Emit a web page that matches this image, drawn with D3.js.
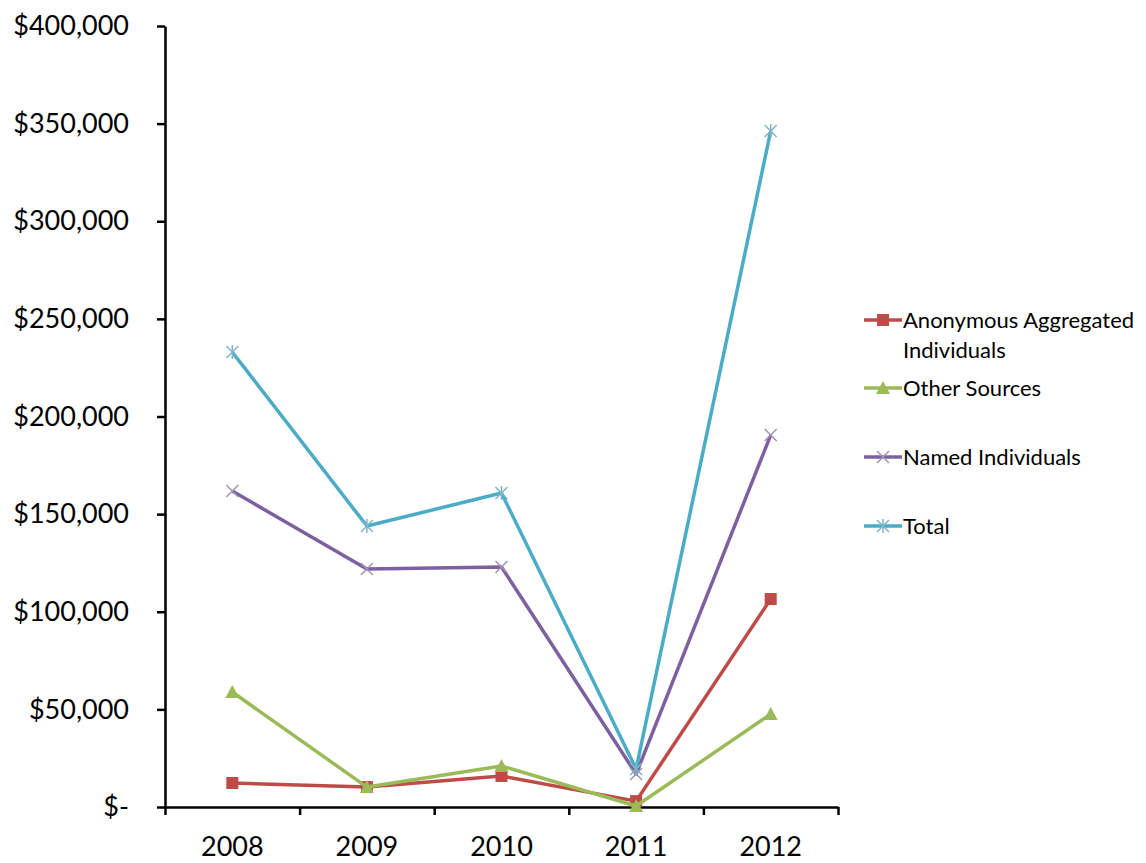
<!DOCTYPE html>
<html>
<head>
<meta charset="utf-8">
<script src="https://cdn.jsdelivr.net/npm/d3@7"></script>
<style>
  body { margin: 0; background: #fff; }
  svg text { font-family: Lato, "Open Sans", sans-serif; fill: #000; }
</style>
</head>
<body>
<svg width="1146" height="863"></svg>
<script>
// chart data
var years = ["2008", "2009", "2010", "2011", "2012"];
var anonymous = [12300, 10200, 15900, 3000, 106500];
var otherSources = [58900, 10200, 21000, 500, 47600];
var named = [161800, 121900, 122900, 16900, 190500];
var total = [233000, 143900, 160800, 19500, 346200];
var yTicks = [0, 50000, 100000, 150000, 200000, 250000, 300000, 350000, 400000];

var series = [
  {name: ["Anonymous Aggregated", "Individuals"], values: anonymous, color: "#BE4B48", marker: "square", markColor: "#BE4B48"},
  {name: ["Other Sources"], values: otherSources, color: "#9BBB59", marker: "triangle", markColor: "#9BBB59"},
  {name: ["Named Individuals"], values: named, color: "#7D60A0", marker: "x", markColor: "#A193B5"},
  {name: ["Total"], values: total, color: "#4BACC6", marker: "star", markColor: "#7FB5C8"}
];

// plot box (note: "top" is taken by window.top, so use plot* names)
var svg = d3.select("svg"),
    plotLeft = 165, plotRight = 838, plotTop = 26, plotBottom = 807;

var x = d3.scaleBand().domain(years).range([plotLeft, plotRight]);
var xEdge = d3.scaleLinear().domain([0, years.length]).range([plotLeft, plotRight]);
var y = d3.scaleLinear().domain([0, 400000]).range([plotBottom, plotTop]);

// y axis
var yAxis = svg.append("g")
    .attr("transform", "translate(" + plotLeft + ",0)")
    .call(d3.axisLeft(y).tickValues(yTicks).tickSize(8).tickSizeOuter(0).tickPadding(28)
      .tickFormat(function(d) { return d === 0 ? "$-" : "$" + d3.format(",")(d); }));
yAxis.selectAll("text").attr("font-size", "27px");

// x axis: ticks sit between categories like Excel
svg.append("g")
    .attr("transform", "translate(0," + plotBottom + ")")
    .call(d3.axisBottom(xEdge).ticks(years.length).tickSize(8).tickSizeOuter(0).tickFormat(""));
svg.append("g")
    .attr("transform", "translate(0," + plotBottom + ")")
    .call(d3.axisBottom(x).tickSize(0).tickPadding(30))
    .call(function(g) { g.select(".domain").remove(); })
    .selectAll("text").attr("font-size", "27px");

svg.selectAll(".domain, .tick line").attr("stroke", "#000").attr("stroke-width", 2.5);

function drawMarker(g, type, color) {
  if (type === "square") {
    g.append("rect").attr("x", -6).attr("y", -6).attr("width", 12).attr("height", 12).attr("fill", color);
  } else if (type === "triangle") {
    g.append("path").attr("d", "M0,-7L7,6L-7,6Z").attr("fill", color);
  } else if (type === "x") {
    g.append("path").attr("d", "M-6,-6L6,6M-6,6L6,-6").attr("stroke", color).attr("stroke-width", 1.5);
  } else {
    g.append("path").attr("d", "M-6,-6L6,6M-6,6L6,-6M0,-7L0,7").attr("stroke", color).attr("stroke-width", 1.5);
  }
}

var line = d3.line()
    .x(function(d, i) { return x(years[i]) + x.bandwidth() / 2; })
    .y(function(d) { return y(d); });

series.forEach(function(s) {
  svg.append("path")
      .attr("d", line(s.values))
      .attr("fill", "none")
      .attr("stroke", s.color)
      .attr("stroke-width", 3.5)
      .attr("stroke-linejoin", "round");
  s.values.forEach(function(v, i) {
    var g = svg.append("g")
        .attr("transform", "translate(" + (x(years[i]) + x.bandwidth() / 2) + "," + y(v) + ")");
    drawMarker(g, s.marker, s.markColor);
  });
});

// legend
var legendY = [320, 388, 457, 526];
series.forEach(function(s, i) {
  var g = svg.append("g").attr("transform", "translate(864," + legendY[i] + ")");
  g.append("line").attr("x1", 0).attr("x2", 38).attr("stroke", s.color).attr("stroke-width", 3.5);
  var m = g.append("g").attr("transform", "translate(19,0)");
  drawMarker(m, s.marker, s.markColor);
  s.name.forEach(function(t, j) {
    g.append("text")
        .attr("x", 39)
        .attr("y", j * 30)
        .attr("dy", "0.35em")
        .attr("font-size", "22px")
        .text(t);
  });
});
</script>
</body>
</html>
